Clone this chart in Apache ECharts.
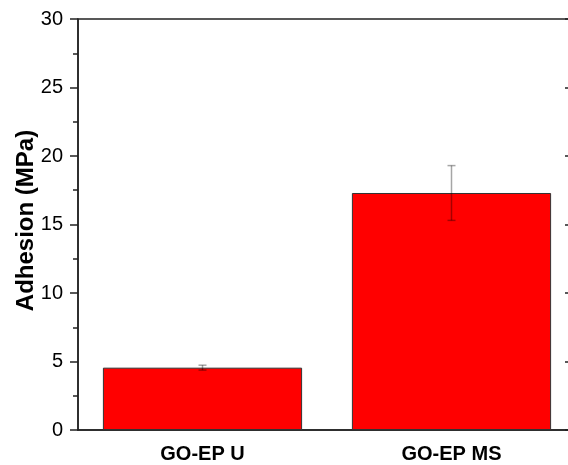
<!DOCTYPE html>
<html>
<head>
<meta charset="utf-8">
<script src="https://cdn.jsdelivr.net/npm/echarts@6/dist/echarts.min.js"></script>
<style>html,body{margin:0;padding:0;background:#fff;overflow:hidden;width:568px;height:465px}#c{width:580px;height:465px}</style>
</head>
<body>
<div id="c"></div>
<script>
var categories = ['GO-EP U', 'GO-EP MS'];
var adhesion = [4.55, 17.3];
var adhesionErr = [0.18, 2.0];
var yTicks = [0, 5, 10, 15, 20, 25, 30];

var chart = echarts.init(document.getElementById('c'));
var axisColor = '#222';
var font = '"Liberation Sans", Arial, sans-serif';

chart.setOption({
  animation: false,
  grid: {left: 78, top: 19, bottom: 35, right: 4, outerBoundsMode: 'none', containLabel: false, show: true, borderColor: axisColor, borderWidth: 1.5, backgroundColor: 'transparent'},
  xAxis: [{
    type: 'category', data: categories, position: 'bottom',
    axisLine: {lineStyle: {color: axisColor, width: 1.5}},
    axisTick: {alignWithLabel: true, length: 9, lineStyle: {color: axisColor, width: 1.5}},
    axisLabel: {fontFamily: font, fontSize: 20, fontWeight: 'bold', color: '#000', margin: 14},
    splitLine: {show: false}
  }, {
    type: 'category', data: categories, position: 'bottom',
    axisLine: {show: false},
    axisTick: {length: 5, lineStyle: {color: axisColor, width: 1.5}},
    axisLabel: {show: false},
    splitLine: {show: false}
  }],
  yAxis: [{
    type: 'value', min: yTicks[0], max: yTicks[yTicks.length - 1], interval: 5,
    name: 'Adhesion (MPa)', nameLocation: 'middle', nameGap: 40, nameMoveOverlap: false,
    nameTextStyle: {fontFamily: font, fontSize: 24, fontWeight: 'bold', color: '#000', padding: [0, 0, 0, 8]},
    axisLine: {show: true, lineStyle: {color: axisColor, width: 1.5}},
    axisTick: {show: true, length: 8, lineStyle: {color: axisColor, width: 1.5}},
    minorTick: {show: true, splitNumber: 2, length: 5, lineStyle: {color: axisColor, width: 1.5}},
    axisLabel: {fontFamily: font, fontSize: 20, color: '#000', margin: 15},
    splitLine: {show: false}
  }, {
    type: 'value', position: 'right', min: yTicks[0], max: yTicks[yTicks.length - 1], interval: 5,
    axisLine: {show: true, lineStyle: {color: axisColor, width: 1.5}},
    axisTick: {show: true, inside: true, length: 11, lineStyle: {color: axisColor, width: 1.5}},
    axisLabel: {show: false},
    splitLine: {show: false}
  }],
  series: [{
    type: 'bar', data: adhesion, barCategoryGap: '20%',
    itemStyle: {color: '#ff0000', borderColor: '#333', borderWidth: 1}
  }, {
    type: 'custom',
    data: adhesion.map(function (v, i) { return [i, v - adhesionErr[i], v + adhesionErr[i]]; }),
    renderItem: function (params, api) {
      var lo = api.coord([api.value(0), api.value(1)]);
      var hi = api.coord([api.value(0), api.value(2)]);
      var w = 4;
      var st = {stroke: 'rgba(0,0,0,0.35)', lineWidth: 1.5};
      return {type: 'group', children: [
        {type: 'line', shape: {x1: hi[0], y1: hi[1], x2: lo[0], y2: lo[1]}, style: st},
        {type: 'line', shape: {x1: hi[0] - w, y1: hi[1], x2: hi[0] + w, y2: hi[1]}, style: st},
        {type: 'line', shape: {x1: lo[0] - w, y1: lo[1], x2: lo[0] + w, y2: lo[1]}, style: st}
      ]};
    },
    z: 10
  }]
});
</script>
</body>
</html>
